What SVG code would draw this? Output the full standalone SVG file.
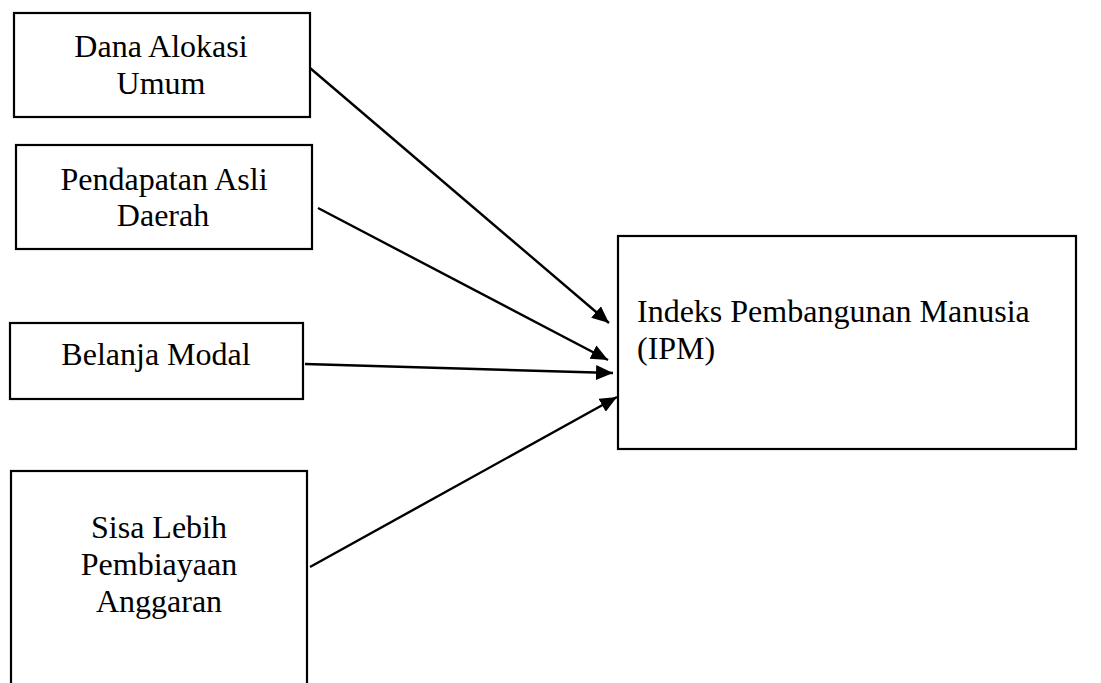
<svg xmlns="http://www.w3.org/2000/svg" width="1101" height="683" viewBox="0 0 1101 683">
<style>
.box{fill:#fff;stroke:#000;stroke-width:2.2}
.t{font-family:"Liberation Serif","Times New Roman",serif;font-size:32px;fill:#000}
.c{text-anchor:middle}
.conn line{stroke:#000;stroke-width:2.4}
</style>
<defs>
<marker id="ah" markerUnits="userSpaceOnUse" markerWidth="19" markerHeight="16" refX="17" refY="7.5" orient="auto">
<path d="M0,0 L17,7.5 L0,15 z" fill="#000"/>
</marker>
</defs>
<rect width="1101" height="683" fill="#fff"/>
<g id="dau">
<rect class="box" x="14" y="13" width="296" height="104"/>
<text class="t c" x="161" y="57">Dana Alokasi</text>
<text class="t c" x="161" y="94">Umum</text>
</g>
<g id="pad">
<rect class="box" x="16" y="145" width="296" height="104"/>
<text class="t c" x="164" y="190">Pendapatan Asli</text>
<text class="t c" x="163" y="226">Daerah</text>
</g>
<g id="bm">
<rect class="box" x="10" y="323" width="293" height="76"/>
<text class="t c" x="156" y="365">Belanja Modal</text>
</g>
<g id="silpa">
<rect class="box" x="11" y="471" width="296" height="230"/>
<text class="t c" x="159" y="538">Sisa Lebih</text>
<text class="t c" x="159" y="575">Pembiayaan</text>
<text class="t c" x="159" y="612">Anggaran</text>
</g>
<g id="ipm">
<rect class="box" x="618" y="236" width="458" height="213"/>
<text class="t" x="637" y="322">Indeks Pembangunan Manusia</text>
<text class="t" x="637" y="359">(IPM)</text>
</g>
<g class="conn">
<line x1="310" y1="68" x2="609" y2="323" marker-end="url(#ah)"/>
<line x1="318" y1="208" x2="608" y2="360" marker-end="url(#ah)"/>
<line x1="305" y1="364" x2="613" y2="373" marker-end="url(#ah)"/>
<line x1="310" y1="567" x2="617" y2="397" marker-end="url(#ah)"/>
</g>
</svg>
